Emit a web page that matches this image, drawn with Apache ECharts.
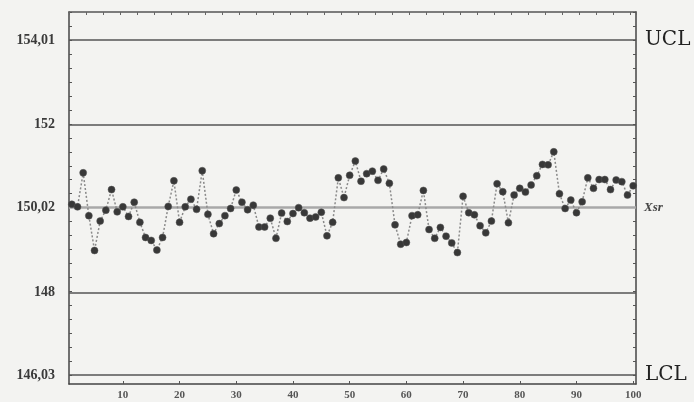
<!DOCTYPE html>
<html>
<head>
<meta charset="utf-8">
<script src="https://cdn.jsdelivr.net/npm/echarts@6/dist/echarts.min.js"></script>
<style>
  html, body { margin: 0; padding: 0; background: #f3f3f1; }
  #chart { width: 694px; height: 402px; }
</style>
</head>
<body>
<div id="chart"></div>
<script>
// Control chart of 100 sample means with control limits
const samples = Array.from({ length: 100 }, (_, i) => i + 1);

const sampleMeans = [
  150.10, 150.04, 150.85, 149.83, 149.00, 149.70, 149.96, 150.45, 149.92, 150.04,
  149.81, 150.15, 149.67, 149.31, 149.24, 149.01, 149.31, 150.05, 150.66, 149.67,
  150.04, 150.22, 149.98, 150.90, 149.86, 149.40, 149.64, 149.83, 150.00, 150.44,
  150.15, 149.97, 150.08, 149.56, 149.56, 149.77, 149.29, 149.89, 149.69, 149.88,
  150.02, 149.90, 149.77, 149.80, 149.91, 149.35, 149.67, 150.73, 150.26, 150.79,
  151.13, 150.65, 150.83, 150.89, 150.67, 150.94, 150.60, 149.61, 149.15, 149.19,
  149.83, 149.85, 150.43, 149.50, 149.29, 149.55, 149.34, 149.18, 148.95, 150.29,
  149.90, 149.85, 149.59, 149.42, 149.70, 150.59, 150.40, 149.66, 150.32, 150.48,
  150.39, 150.56, 150.78, 151.05, 151.04, 151.35, 150.35, 150.00, 150.20, 149.90,
  150.16, 150.73, 150.48, 150.69, 150.69, 150.45, 150.68, 150.64, 150.32, 150.54
];

const UCL = 154.01;
const CENTER = 150.02;
const LCL = 146.03;
const guideLevels = [152, 148];
const yTickLabels = [146.03, 148, 150.02, 152, 154.01];
const xTickLabels = [10, 20, 30, 40, 50, 60, 70, 80, 90, 100];

const Y_MIN = 145.82;
const Y_MAX = 154.68;

// small inside ticks, 24 steps between the control limits
const tickStep = (UCL - LCL) / 24;
const minorTicks = [];
for (let v = LCL - tickStep; v <= Y_MAX; v += tickStep) {
  if (v >= Y_MIN) minorTicks.push(+v.toFixed(4));
}

const serif = '"Liberation Serif", "DejaVu Serif", serif';
const wideSerif = '"DejaVu Serif", "Liberation Serif", serif';
const fmt = v => String(v).replace('.', ',');

const chart = echarts.init(document.getElementById('chart'), null, { renderer: 'canvas' });

chart.setOption({
  backgroundColor: '#f3f3f1',
  animation: false,
  grid: { left: 69, right: 58, top: 12, bottom: 18, containLabel: false },
  xAxis: [
    {
      type: 'category',
      data: samples,
      boundaryGap: true,
      position: 'bottom',
      axisLine: { show: true, lineStyle: { color: '#444', width: 1.5 } },
      axisTick: {
        show: true, inside: true, length: 3, alignWithLabel: true,
        interval: (i, v) => xTickLabels.includes(Number(v)),
        lineStyle: { color: '#555' }
      },
      axisLabel: {
        interval: (i, v) => xTickLabels.includes(Number(v)),
        margin: 6,
        fontFamily: serif, fontSize: 11, fontWeight: 'bold', color: '#555'
      },
      splitLine: { show: false }
    },
    {
      type: 'category',
      data: samples,
      boundaryGap: true,
      position: 'top',
      axisLine: { show: true, lineStyle: { color: '#555', width: 1.5 } },
      axisTick: {
        show: true, inside: true, length: 3,
        interval: i => i % 3 === 0,
        lineStyle: { color: '#666' }
      },
      axisLabel: { show: false },
      splitLine: { show: false }
    }
  ],
  yAxis: [
    {
      type: 'value',
      min: Y_MIN,
      max: Y_MAX,
      position: 'left',
      axisLine: { show: true, lineStyle: { color: '#444', width: 1.5 } },
      axisTick: {
        show: true, inside: true, length: 3,
        customValues: minorTicks,
        lineStyle: { color: '#555' }
      },
      axisLabel: {
        customValues: yTickLabels,
        formatter: fmt,
        margin: 14,
        fontFamily: serif, fontSize: 14, fontWeight: 'bold', color: '#3a3a3a'
      },
      splitLine: { show: false }
    },
    {
      type: 'value',
      min: Y_MIN,
      max: Y_MAX,
      position: 'right',
      axisLine: { show: true, lineStyle: { color: '#444', width: 1.5 } },
      axisTick: {
        show: true, inside: true, length: 3,
        customValues: minorTicks,
        lineStyle: { color: '#555' }
      },
      axisLabel: { show: false },
      splitLine: { show: false }
    }
  ],
  series: [
    {
      type: 'line',
      xAxisIndex: 0,
      yAxisIndex: 0,
      data: sampleMeans,
      symbol: 'circle',
      symbolSize: 7,
      showAllSymbol: true,
      lineStyle: { color: '#8a8a8a', width: 1.5, type: [2, 2] },
      itemStyle: { color: '#383838', borderColor: '#555', borderWidth: 0.5 },
      z: 5,
      markLine: {
        silent: true,
        symbol: ['none', 'none'],
        animation: false,
        data: [
          {
            yAxis: UCL,
            lineStyle: { color: '#555', width: 1.5, type: 'solid' },
            label: {
              show: true, position: 'end', distance: 9, formatter: 'UCL',
              fontFamily: wideSerif, fontSize: 20, color: '#222'
            }
          },
          {
            yAxis: guideLevels[0],
            lineStyle: { color: '#555', width: 1.5, type: 'solid' },
            label: { show: false }
          },
          {
            yAxis: CENTER,
            lineStyle: { color: '#a8a8a8', width: 2.5, type: 'solid' },
            label: {
              show: true, position: 'end', distance: 8, formatter: 'Xsr',
              fontFamily: serif, fontSize: 13, fontStyle: 'italic',
              fontWeight: 'bold', color: '#444'
            }
          },
          {
            yAxis: guideLevels[1],
            lineStyle: { color: '#555', width: 1.5, type: 'solid' },
            label: { show: false }
          },
          {
            yAxis: LCL,
            lineStyle: { color: '#555', width: 1.5, type: 'solid' },
            label: {
              show: true, position: 'end', distance: 9, formatter: 'LCL',
              fontFamily: wideSerif, fontSize: 20, color: '#222'
            }
          }
        ]
      }
    }
  ]
});
</script>
</body>
</html>
